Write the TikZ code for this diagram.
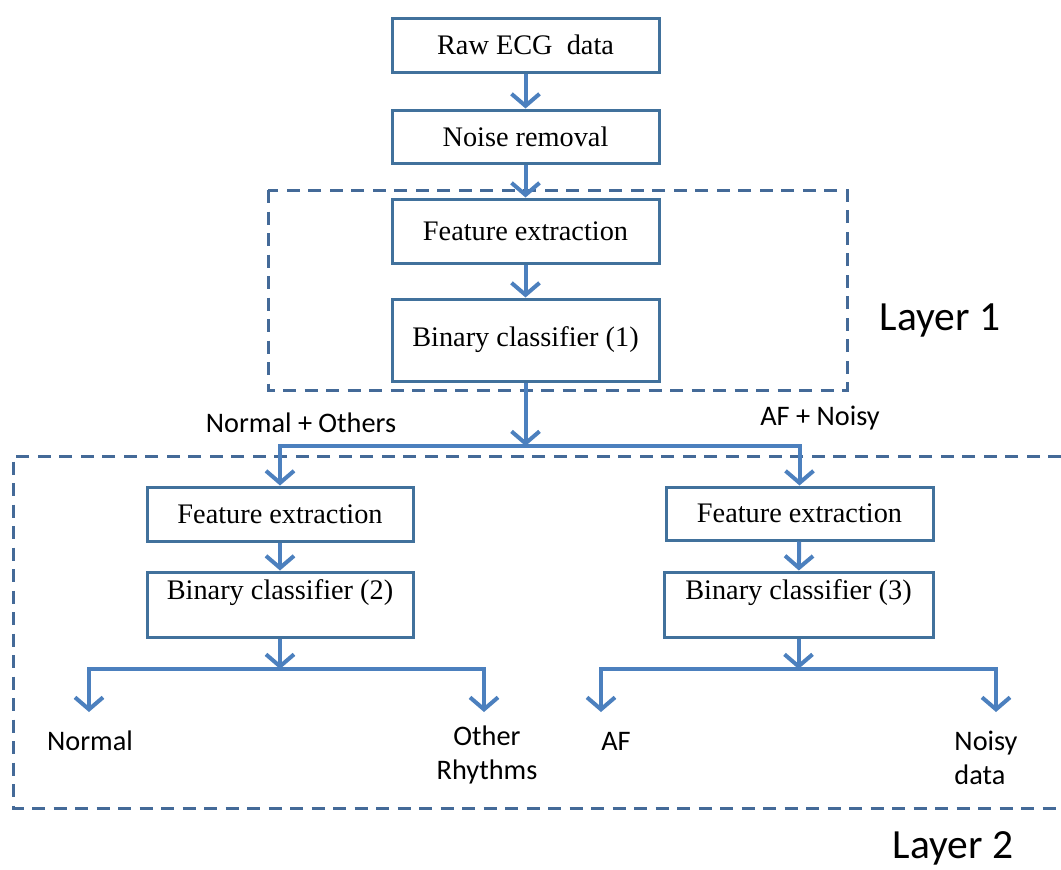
\documentclass[tikz,border=0pt]{standalone}
\usepackage{fontspec}
\setmainfont{Liberation Serif}
\newfontfamily\labelfont{Carlito}
\usetikzlibrary{arrows.meta}
\definecolor{boxline}{RGB}{65,113,156}
\definecolor{flow}{RGB}{76,128,190}
\definecolor{layerline}{RGB}{68,106,152}
\begin{document}
\begin{tikzpicture}[x=1pt,y=-1pt,
  boxfont/.style={font=\fontsize{28.3}{33}\selectfont},
  stepbox/.style={draw=boxline, line width=3pt, fill=white, inner sep=0pt, boxfont},
  flowarrow/.style={draw=flow, line width=4pt,
    -{Straight Barb[length=12pt,width=28pt]}},
  layerbox/.style={draw=layerline, line width=3pt, dash pattern=on 13pt off 8.5pt},
  sidelabel/.style={font=\labelfont\fontsize{28.3}{34}\selectfont, inner sep=0pt},
  layerlabel/.style={font=\labelfont\fontsize{41.5}{50}\selectfont, inner sep=0pt}]
\useasboundingbox (0,0) rectangle (1061,870);

% layer frames
\draw[layerbox] (268,190) rectangle (847,390);
\draw[layerbox] (1061,456) -- (13,456) -- (13,808) -- (1061,808);
\node[layerlabel] (l1) at (940,320) {Layer 1};
\node[layerlabel] (l2) at (953,848) {Layer 2};

% top chain
\node[stepbox, minimum width=267, minimum height=54] (raw) at (525.5,45) {Raw ECG\ \ data};
\node[stepbox, minimum width=267, minimum height=53] (noise) at (525.5,136.5) {Noise removal};
\node[stepbox, minimum width=267, minimum height=64] (fe1) at (525.5,231) {Feature extraction};
\node[stepbox, minimum width=267, minimum height=82] (bc1) at (525.5,340) {Binary classifier (1)};

% left branch
\node[stepbox, minimum width=266, minimum height=54] (fe2) at (280,514) {Feature extraction};
\node[stepbox, minimum width=266, minimum height=65,
  label={[anchor=north, inner sep=9pt, boxfont]north:Binary classifier (2)}] (bc2) at (280,604.5) {};

% right branch
\node[stepbox, minimum width=267, minimum height=53] (fe3) at (799.5,513.5) {Feature extraction};
\node[stepbox, minimum width=269, minimum height=65,
  label={[anchor=north, inner sep=9pt, boxfont]north:Binary classifier (3)}] (bc3) at (798.5,604.5) {};

% junctions and outlet points
\coordinate (j1) at (525.5,446);
\coordinate (j2) at (280,669);
\coordinate (j3) at (798.5,669);
\coordinate (o1) at (89,712);
\coordinate (o2) at (484,712);
\coordinate (o3) at (601,712);
\coordinate (o4) at (996,712);

% connectors
\draw[flowarrow] (raw) -- (noise);
\draw[flowarrow] (noise) -- (fe1);
\draw[flowarrow] (fe1) -- (bc1);
\draw[flowarrow] (bc1) -- (j1);
\draw[flowarrow] (j1) -| (fe2);
\draw[flowarrow] (j1) -| (fe3);
\draw[flowarrow] (fe2) -- (bc2);
\draw[flowarrow] (fe3) -- (bc3);
\draw[flowarrow] (bc2) -- (j2);
\draw[flowarrow] (bc3) -- (j3);
\draw[flowarrow] (j2) -| (o1);
\draw[flowarrow] (j2) -| (o2);
\draw[flowarrow] (j3) -| (o3);
\draw[flowarrow] (j3) -| (o4);

% branch labels
\node[sidelabel] (nplus) at (301,423) {Normal + Others};
\node[sidelabel] (afplus) at (820,418) {AF + Noisy};
\node[sidelabel] (normal) at (90,741) {Normal};
\node[sidelabel, align=center] (other) at (487,755) {Other\\Rhythms};
\node[sidelabel, align=left] (noisy) at (986,758) {Noisy\\data};
\node[sidelabel] (af) at (616,741) {AF};
\end{tikzpicture}
\end{document}
